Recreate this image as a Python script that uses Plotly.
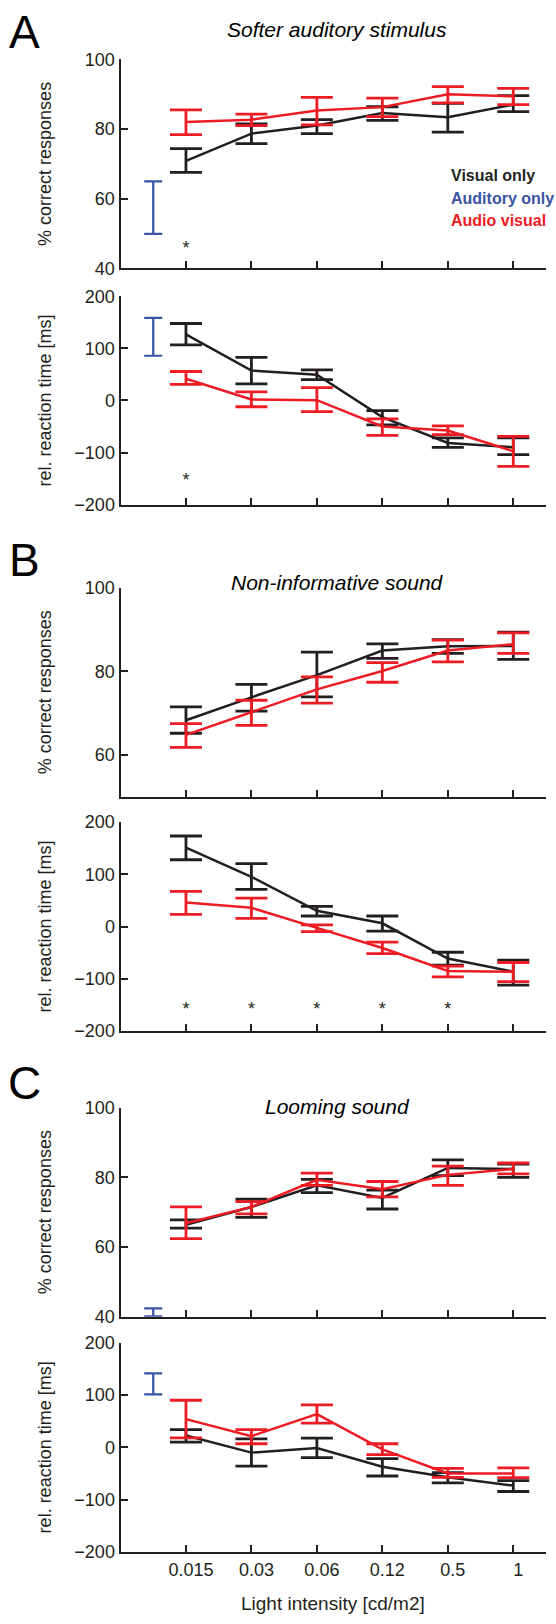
import plotly.graph_objects as go

W, H = 556, 1624

# ---------------- data ----------------
categories = ["0.015", "0.03", "0.06", "0.12", "0.5", "1"]
cat_pos = [1, 2, 3, 4, 5, 6]
aud_pos = [0.5]

# Panel A - softer auditory stimulus
vis_A_pc = [70.9, 78.7, 81.0, 84.6, 83.4, 87.0]
vis_A_pc_hi = [74.4, 81.5, 82.7, 86.4, 87.4, 89.6]
vis_A_pc_lo = [67.6, 75.8, 78.7, 82.5, 79.1, 85.0]
av_A_pc = [82.0, 82.7, 85.3, 86.3, 90.0, 89.4]
av_A_pc_hi = [85.5, 84.3, 89.1, 88.9, 92.2, 91.7]
av_A_pc_lo = [78.4, 81.0, 81.2, 83.6, 87.5, 87.0]
aud_A_pc = [57.45]
aud_A_pc_hi = [65.0]
aud_A_pc_lo = [49.9]

vis_A_rt = [127, 57.6, 49.4, -32, -81.6, -90]
vis_A_rt_hi = [148, 83, 59, -19.6, -72, -72]
vis_A_rt_lo = [107, 32, 40, -46.8, -90, -104]
av_A_rt = [41.8, 1.9, 0.6, -50, -57.6, -97.5]
av_A_rt_hi = [55.7, 16.5, 24.7, -35.4, -48.7, -69]
av_A_rt_lo = [31, -12, -21.5, -67, -65.8, -126.6]
aud_A_rt = [122.5]
aud_A_rt_hi = [158.9]
aud_A_rt_lo = [86.0]

# Panel B - non-informative sound
vis_B_pc = [68.3, 73.8, 79.1, 85.0, 86.0, 86.1]
vis_B_pc_hi = [71.5, 76.9, 84.6, 86.6, 87.6, 89.4]
vis_B_pc_lo = [65.2, 70.5, 73.9, 83.1, 84.3, 82.9]
av_B_pc = [64.8, 70.2, 75.7, 80.1, 85.0, 86.5]
av_B_pc_hi = [67.5, 73.1, 78.7, 82.1, 87.5, 89.2]
av_B_pc_lo = [61.8, 67.1, 72.4, 77.4, 82.3, 84.3]

vis_B_rt = [151.4, 95.3, 30.3, 6.3, -61.2, -86.4]
vis_B_rt_hi = [173.5, 120.5, 38.5, 20.2, -49.2, -64.4]
vis_B_rt_lo = [128, 71.3, 20.2, -8.8, -73.8, -112.3]
av_B_rt = [46, 36, -2.5, -41, -85.2, -86.4]
av_B_rt_hi = [67.5, 54.3, 3.2, -29.7, -75.7, -68.8]
av_B_rt_lo = [23.3, 15.8, -9.5, -51.7, -96.5, -105.4]

# Panel C - looming sound
vis_C_pc = [66.4, 71.5, 77.7, 74.1, 82.7, 82.4]
vis_C_pc_hi = [67.8, 73.7, 79.4, 76.3, 85.0, 83.8]
vis_C_pc_lo = [65.4, 68.5, 75.6, 70.9, 80.5, 80.0]
av_C_pc = [66.8, 71.5, 79.3, 76.6, 80.7, 82.4]
av_C_pc_hi = [71.5, 73.0, 81.2, 78.8, 83.2, 84.1]
av_C_pc_lo = [62.4, 69.5, 77.7, 74.4, 77.7, 81.0]
aud_C_pc = [41.25]
aud_C_pc_hi = [42.4]
aud_C_pc_lo = [40.1]

vis_C_rt = [22.6, -10, -1.3, -37, -57.2, -73]
vis_C_rt_hi = [34, 16.4, 17.6, -21.4, -48.4, -63.5]
vis_C_rt_lo = [10, -35.8, -19.5, -54.7, -68, -84.3]
av_C_rt = [54, 21.4, 63.5, -3.8, -49.7, -49.7]
av_C_rt_hi = [90, 34, 81, 6.9, -40.3, -39]
av_C_rt_lo = [18.2, 6.9, 46.5, -13.8, -57.2, -57.9]
aud_C_rt = [121.4]
aud_C_rt_hi = [141.5]
aud_C_rt_lo = [101.3]

# significance markers
sig_A_pc_x = [1]
sig_A_pc_y = [45.5]
sig_A_rt_x = [1]
sig_A_rt_y = [-155]
sig_B_rt_x = [1, 2, 3, 4, 5]
sig_B_rt_y = [-160, -160, -160, -160, -160]

pc_ticks = [40, 60, 80, 100]
pc_ticks_B = [60, 80, 100]
rt_ticks = [-200, -100, 0, 100, 200]

titles = ["Softer auditory stimulus", "Non-informative sound", "Looming sound"]
letters = ["A", "B", "C"]
legend_labels = ["Visual only", "Auditory only", "Audio visual"]

# ---------------- style ----------------
FONT = "Liberation Sans, Arial, Helvetica, sans-serif"
K = "#231f20"
RED = "#ed1c24"
BLUE = "#3953a4"

# panel pixel bounds (top, bottom)
panels_px = [(50, 261.7), (290, 500.7), (585, 796.6), (822.3, 1033.7),
             (1111.3, 1323), (1349.3, 1561.3)]
yranges = [[40, 100], [-200, 200], [50, 100], [-200, 200], [40, 100], [-200, 200]]
yticks = [pc_ticks, rt_ticks, pc_ticks_B, rt_ticks, pc_ticks, rt_ticks]
x_left, x_right = 120.5, 546.0


def px(x):
    return x / W


def py(y):
    return 1 - y / H


fig = go.Figure()


def err(mean, hi, lo):
    return [h - m for h, m in zip(hi, mean)], [m - l for m, l in zip(mean, lo)]


def add_series(i, x, mean, hi, lo, color, lines=True, capw=16, thick=2.8):
    plus, minus = err(mean, hi, lo)
    ax = "" if i == 0 else str(i + 1)
    fig.add_trace(go.Scatter(
        x=x, y=mean, xaxis="x" + ax, yaxis="y" + ax,
        mode="lines" if lines else "markers",
        line=dict(color=color, width=2.5),
        marker=dict(size=1, color="rgba(0,0,0,0)"),
        error_y=dict(type="data", symmetric=False, array=plus, arrayminus=minus,
                     color=color, thickness=thick, width=capw),
        showlegend=False, hoverinfo="skip"))


def add_sig(i, xs, ys):
    ax = "" if i == 0 else str(i + 1)
    fig.add_trace(go.Scatter(x=xs, y=ys, xaxis="x" + ax, yaxis="y" + ax,
                             mode="text", text=["*"] * len(xs),
                             textfont=dict(family=FONT, size=18, color=K),
                             showlegend=False, hoverinfo="skip"))


series = [
    (vis_A_pc, vis_A_pc_hi, vis_A_pc_lo, av_A_pc, av_A_pc_hi, av_A_pc_lo),
    (vis_A_rt, vis_A_rt_hi, vis_A_rt_lo, av_A_rt, av_A_rt_hi, av_A_rt_lo),
    (vis_B_pc, vis_B_pc_hi, vis_B_pc_lo, av_B_pc, av_B_pc_hi, av_B_pc_lo),
    (vis_B_rt, vis_B_rt_hi, vis_B_rt_lo, av_B_rt, av_B_rt_hi, av_B_rt_lo),
    (vis_C_pc, vis_C_pc_hi, vis_C_pc_lo, av_C_pc, av_C_pc_hi, av_C_pc_lo),
    (vis_C_rt, vis_C_rt_hi, vis_C_rt_lo, av_C_rt, av_C_rt_hi, av_C_rt_lo),
]
auditory = {0: (aud_A_pc, aud_A_pc_hi, aud_A_pc_lo),
            1: (aud_A_rt, aud_A_rt_hi, aud_A_rt_lo),
            4: (aud_C_pc, aud_C_pc_hi, aud_C_pc_lo),
            5: (aud_C_rt, aud_C_rt_hi, aud_C_rt_lo)}

for i, (vm, vh, vl, am, ah, al) in enumerate(series):
    if i in auditory:
        m, h, l = auditory[i]
        add_series(i, aud_pos, m, h, l, BLUE, lines=False, capw=9, thick=2.2)
    add_series(i, cat_pos, vm, vh, vl, K)
    add_series(i, cat_pos, am, ah, al, RED)

add_sig(0, sig_A_pc_x, sig_A_pc_y)
add_sig(1, sig_A_rt_x, sig_A_rt_y)
add_sig(3, sig_B_rt_x, sig_B_rt_y)

layout = dict(
    width=W, height=H, margin=dict(l=0, r=0, t=0, b=0),
    paper_bgcolor="white", plot_bgcolor="white",
    font=dict(family=FONT, color=K, size=18),
    showlegend=False,
)
for i, (top, bot) in enumerate(panels_px):
    ax = "" if i == 0 else str(i + 1)
    last = i == len(panels_px) - 1
    layout["xaxis" + ax] = dict(
        domain=[px(x_left), px(x_right)], range=[0, 6.5], anchor="y" + ax,
        tickmode="array", tickvals=cat_pos, ticktext=categories,
        showticklabels=last, ticks="inside", ticklen=7, tickwidth=2, tickcolor=K,
        showline=True, linecolor=K, linewidth=2, showgrid=False, zeroline=False,
        tickfont=dict(family=FONT, size=18, color=K), ticklabelshift=5,
        fixedrange=True)
    layout["yaxis" + ax] = dict(
        domain=[py(bot), py(top)], range=yranges[i], anchor="x" + ax,
        tickmode="array", tickvals=yticks[i],
        ticks="inside", ticklen=7, tickwidth=2, tickcolor=K,
        showline=True, linecolor=K, linewidth=2, showgrid=False, zeroline=False,
        tickfont=dict(family=FONT, size=18, color=K), fixedrange=True)

fig.update_layout(**layout)

ann = []
# panel letters
for letter, yc in zip(letters, [22, 557, 1086]):
    ann.append(dict(text=letter, x=px(24), y=py(yc), xref="paper", yref="paper",
                    xanchor="center", yanchor="middle", showarrow=False,
                    font=dict(family=FONT, size=46, color="black")))
# panel titles
for t, yc in zip(titles, [20, 580, 1110]):
    ann.append(dict(text="<i>" + t + "</i>", x=px(337), y=py(yc), xref="paper", yref="paper",
                    xanchor="center", yanchor="middle", showarrow=False,
                    font=dict(family=FONT, size=21, color="black")))
# y titles
for i, (top, bot) in enumerate(panels_px):
    t = "% correct responses" if i % 2 == 0 else "rel. reaction time [ms]"
    ann.append(dict(text=t, x=px(45), y=py((top + bot) / 2), xref="paper", yref="paper",
                    xanchor="center", yanchor="middle", textangle=-90, showarrow=False,
                    font=dict(family=FONT, size=18, color=K)))
# x title
ann.append(dict(text="Light intensity [cd/m2]", x=px(333), y=py(1613), xref="paper", yref="paper",
                xanchor="center", yanchor="middle", showarrow=False,
                font=dict(family=FONT, size=19, color=K)))
# legend
for lab, col, yc in zip(legend_labels, [K, BLUE, RED], [168, 191, 213]):
    ann.append(dict(text="<b>" + lab + "</b>", x=px(449), y=py(yc), xref="paper", yref="paper",
                    xanchor="left", yanchor="middle", showarrow=False,
                    font=dict(family=FONT, size=16, color=col)))

fig.update_layout(annotations=ann)
fig.write_html("out.html", config={"displayModeBar": False},
               post_script="document.body.style.margin='0';document.body.style.overflow='hidden';")
